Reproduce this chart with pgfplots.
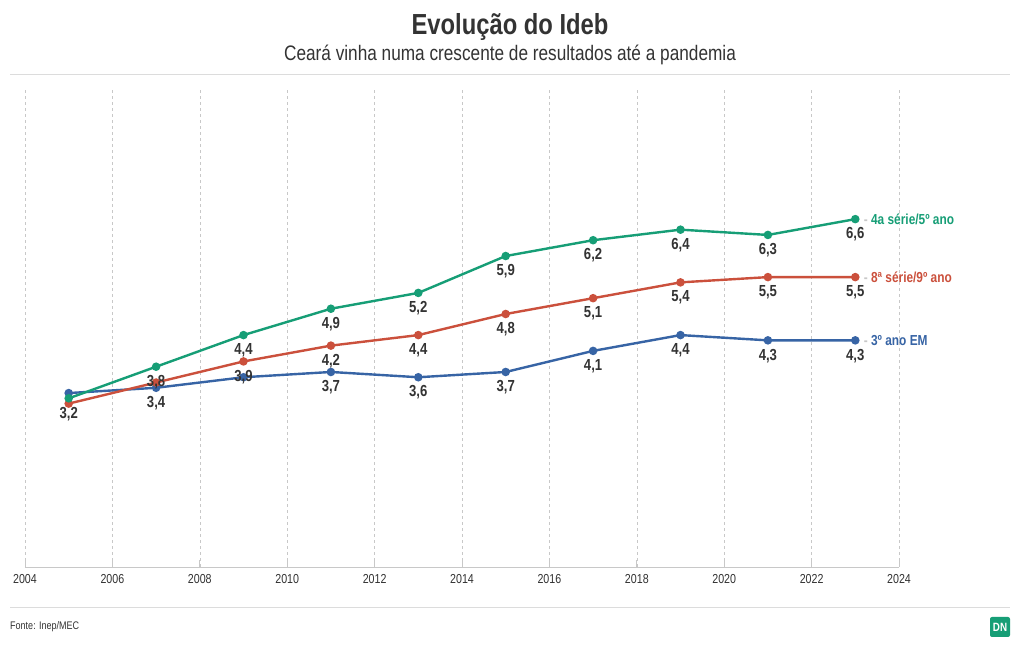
\documentclass[border=0pt]{standalone}
\usepackage{pgfplots}
\pgfplotsset{compat=1.18}
\usepackage{pgfplotstable}
\usepackage{fontspec}
\setmainfont{Liberation Sans}[FakeStretch=0.82]
\definecolor{cgreen}{RGB}{22,158,118}
\definecolor{cred}{RGB}{203,80,60}
\definecolor{cblue}{RGB}{55,100,165}
\definecolor{txt}{RGB}{51,51,51}
\definecolor{gridc}{RGB}{200,200,200}
\definecolor{sep}{RGB}{220,220,220}

\pgfplotstableread{
x y lab
2005 3.2 3,2
2007 3.8 3,8
2009 4.4 4,4
2011 4.9 4,9
2013 5.2 5,2
2015 5.9 5,9
2017 6.2 6,2
2019 6.4 6,4
2021 6.3 6,3
2023 6.6 6,6
}\greentab
\pgfplotstableread{
x y lab
2005 3.1 {}
2007 3.5 {}
2009 3.9 3,9
2011 4.2 4,2
2013 4.4 4,4
2015 4.8 4,8
2017 5.1 5,1
2019 5.4 5,4
2021 5.5 5,5
2023 5.5 5,5
}\redtab
\pgfplotstableread{
x y lab
2005 3.3 {}
2007 3.4 3,4
2009 3.6 {}
2011 3.7 3,7
2013 3.6 3,6
2015 3.7 3,7
2017 4.1 4,1
2019 4.4 4,4
2021 4.3 4,3
2023 4.3 4,3
}\bluetab

\begin{document}
\begin{tikzpicture}
\path[use as bounding box, fill=white] (0pt,0pt) rectangle (1020pt,650pt);
\node[font=\bfseries\fontsize{29}{30}\selectfont, text=txt] at (510pt,623pt) {Evolução do Ideb};
\node[font=\fontsize{21}{22}\selectfont, text=txt] at (510pt,595pt) {Ceará vinha numa crescente de resultados até a pandemia};
\draw[sep, line width=1pt] (10pt,575pt) -- (1010pt,575pt);
\draw[sep, line width=1pt] (10pt,42pt) -- (1010pt,42pt);
\node[anchor=west, font=\fontsize{11}{11}\selectfont, text=txt, inner sep=0pt] at (10pt,23pt) {Fonte: Inep/MEC};
\node[fill=cgreen, rounded corners=2pt, minimum size=20pt, text=white, font=\bfseries\fontsize{12}{12}\selectfont, inner sep=0pt] at (1000pt,23pt) {DN};

\begin{axis}[
  at={(25pt,83pt)}, anchor=south west,
  scale only axis, width=874pt, height=477pt,
  xmin=2004, xmax=2024, ymin=0, ymax=9.05,
  xtick={2004,2006,...,2024},
  ytick=\empty,
  axis x line*=bottom,
  axis y line=none,
  axis line style={gridc, line width=0.8pt, -},
  x tick style={gridc, line width=0.8pt},
  tick align=inside,
  major tick length=7pt,
  xmajorgrids,
  grid style={gridc, dashed, line width=0.6pt},
  /pgf/number format/1000 sep={},
  /pgf/number format/assume math mode=true,
  xticklabel style={font=\fontsize{13}{13}\selectfont, text=txt, yshift=-4pt},
  clip=false,
  every axis plot/.append style={line width=2.4pt, mark=*, mark size=3pt, mark options={line width=0pt}},
]
\addplot[cblue, mark options={fill=cblue, draw=cblue}] table[x=x,y=y] {\bluetab};
\addplot[cred, mark options={fill=cred, draw=cred}] table[x=x,y=y] {\redtab};
\addplot[cgreen, mark options={fill=cgreen, draw=cgreen}] table[x=x,y=y] {\greentab};

\pgfplotsset{lblstyle/.style={draw=none, mark=none, nodes near coords, point meta=explicit symbolic,
  nodes near coords style={font=\bfseries\fontsize{16}{16}\selectfont, text=txt, anchor=north, inner sep=0pt, yshift=-8.5pt}}}
\addplot[lblstyle] table[x=x,y=y,meta=lab] {\bluetab};
\addplot[lblstyle] table[x=x,y=y,meta=lab] {\redtab};
\addplot[lblstyle] table[x=x,y=y,meta=lab] {\greentab};

\node[anchor=west, font=\bfseries\fontsize{14.5}{14.5}\selectfont, text=cgreen, xshift=5pt] at (axis cs:2023,6.6) {\textcolor{gridc}{-} 4a série/5º ano};
\node[anchor=west, font=\bfseries\fontsize{14.5}{14.5}\selectfont, text=cred, xshift=5pt] at (axis cs:2023,5.5) {\textcolor{gridc}{-} 8ª série/9º ano};
\node[anchor=west, font=\bfseries\fontsize{14.5}{14.5}\selectfont, text=cblue, xshift=5pt] at (axis cs:2023,4.3) {\textcolor{gridc}{-} 3º ano EM};
\end{axis}
\end{tikzpicture}
\end{document}
